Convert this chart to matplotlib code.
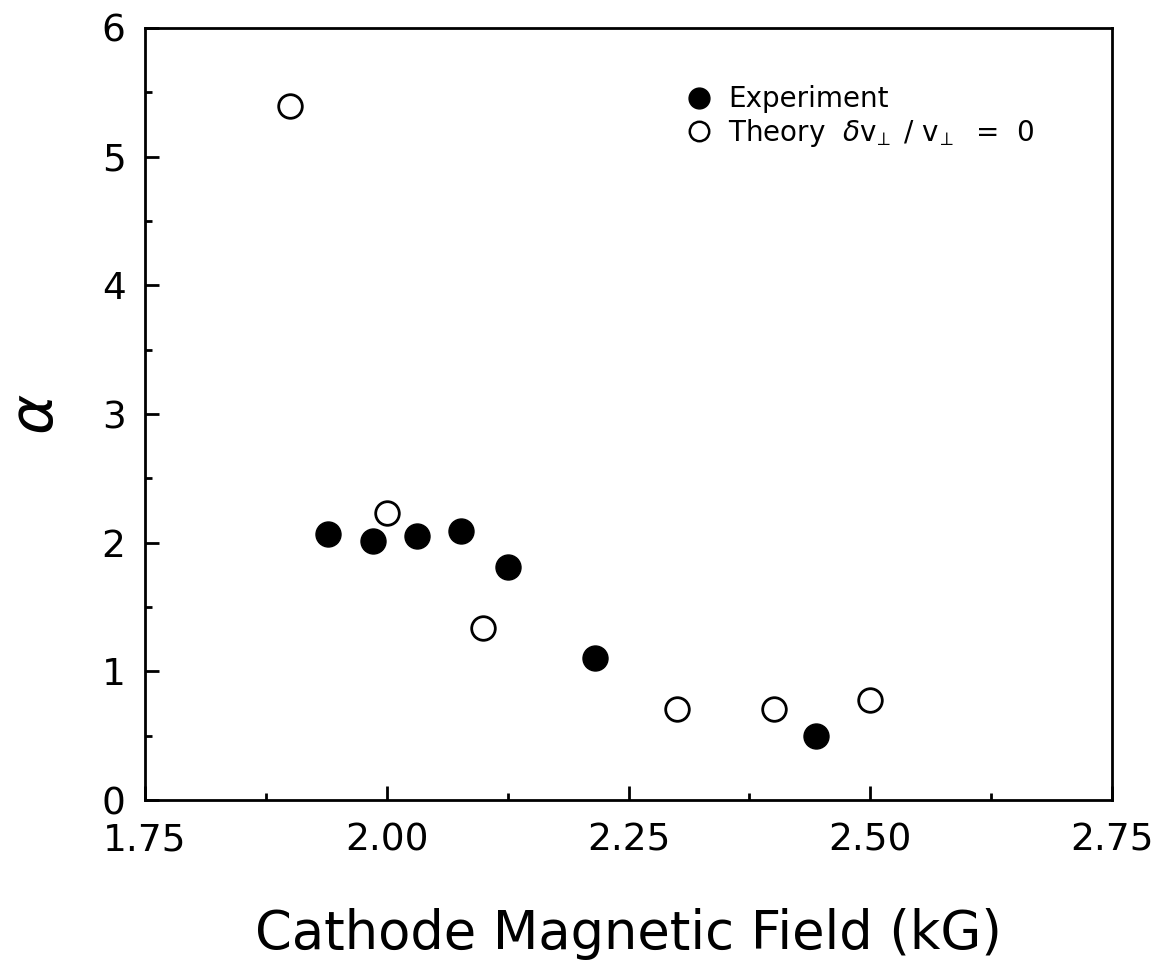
import matplotlib
matplotlib.use("Agg")
import matplotlib.pyplot as plt
from matplotlib.lines import Line2D

plt.rcParams['font.family'] = ['DejaVu Sans']
plt.rcParams['mathtext.fontset'] = 'dejavusans'

exp_x = [1.939, 1.986, 2.031, 2.077, 2.125, 2.215, 2.444]
exp_y = [2.07, 2.01, 2.05, 2.09, 1.81, 1.10, 0.50]
th_x = [1.90, 2.00, 2.10, 2.30, 2.40, 2.50]
th_y = [5.39, 2.23, 1.34, 0.71, 0.71, 0.78]

xticks = [1.75, 2.00, 2.25, 2.50, 2.75]
xticklabels = ["1.75", "2.00", "2.25", "2.50", "2.75"]
yticks = [0, 1, 2, 3, 4, 5, 6]

fig = plt.figure(figsize=(11.67, 9.63), dpi=100)
ax = fig.add_axes([145/1167, 1-800/963, (1112-145)/1167, (800-28)/963])

ax.plot(exp_x, exp_y, 'o', color='black', markersize=18, linestyle='none', clip_on=False)
ax.plot(th_x, th_y, 'o', markerfacecolor='white', markeredgecolor='black',
        markeredgewidth=2, markersize=17, linestyle='none', clip_on=False)

ax.set_xlim(1.75, 2.75)
ax.set_ylim(0, 6)
ax.set_xticks(xticks)
ax.set_xticklabels(xticklabels)
ax.set_yticks(yticks)
ax.set_xticks([1.875, 2.125, 2.375, 2.625], minor=True)
ax.set_yticks([0.5, 1.5, 2.5, 3.5, 4.5, 5.5], minor=True)
ax.tick_params(which='major', direction='in', length=10, width=2, labelsize=27)
ax.tick_params(which='minor', direction='in', length=5, width=2)
ax.tick_params(axis='y', which='major', pad=14)
ax.tick_params(axis='x', which='major', pad=16)
for s in ax.spines.values():
    s.set_linewidth(2)

ax.set_xlabel("Cathode Magnetic Field (kG)", fontsize=38, labelpad=36)
ax.set_ylabel(r"$\alpha$", fontsize=44, labelpad=26)

handles = [
    Line2D([], [], marker='o', color='black', markersize=15, linestyle='none'),
    Line2D([], [], marker='o', markerfacecolor='white', markeredgecolor='black',
           markeredgewidth=1.8, markersize=14, linestyle='none'),
]
labels = ["Experiment",
          r"Theory  $\delta\mathrm{v}_{\!\perp}\ /\ \mathrm{v}_{\!\perp}\ $ =  0"]
ax.legend(handles, labels, loc='upper left', bbox_to_anchor=(0.547, 0.94),
          frameon=False, fontsize=20, handletextpad=0.55, labelspacing=0.12,
          handlelength=1.0, borderaxespad=0)

fig.savefig("out.png", dpi=100)
